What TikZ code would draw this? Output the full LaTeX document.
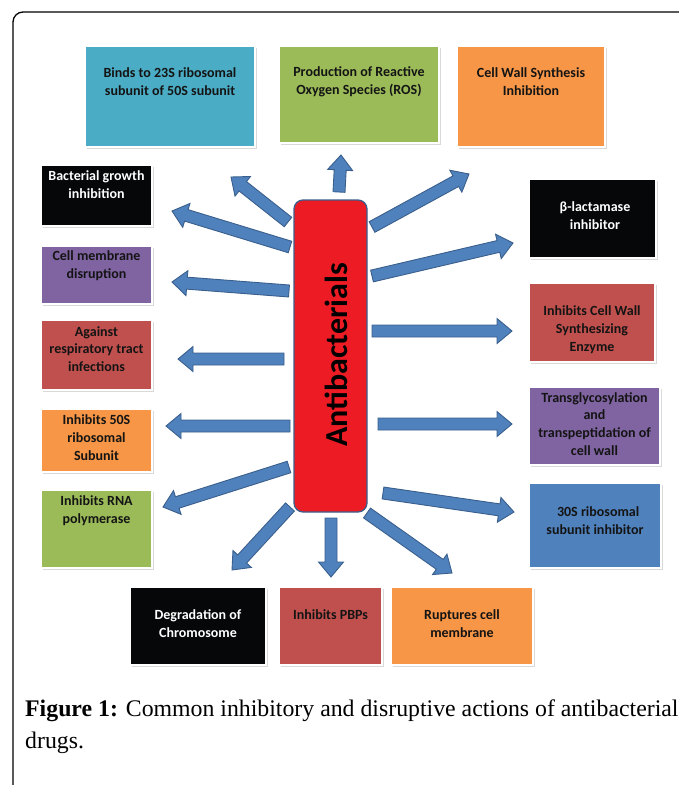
\documentclass[tikz,border=0pt]{standalone}
\usepackage{fontspec}
\setmainfont{Liberation Serif}
\newfontfamily\boxfont{Carlito}
\usetikzlibrary{calc,shadows}

\definecolor{tealbox}{HTML}{4BACC6}
\definecolor{greenbox}{HTML}{9BBB59}
\definecolor{orangebox}{HTML}{F79646}
\definecolor{purplebox}{HTML}{8064A2}
\definecolor{redbox}{HTML}{C0504D}
\definecolor{bluebox}{HTML}{4F81BD}
\definecolor{blackbox}{HTML}{050708}
\definecolor{arrowfill}{HTML}{4F81BD}
\definecolor{arrowedge}{HTML}{3A5F8C}
\definecolor{centrefill}{HTML}{ED1C24}

\tikzset{
  box/.style={draw=white, line width=2pt, inner sep=0pt,
    drop shadow={shadow xshift=1.5pt, shadow yshift=-1.5pt, fill=black!25, opacity=0.6}},
  txt/.style={font=\boxfont\bfseries\fontsize{14}{17.8}\selectfont, align=center, text=black!92, inner sep=0pt},
  wtxt/.style={txt, text=white},
  blockarrow/.style={fill=arrowfill, draw=arrowedge, line width=0.9pt, line join=miter}
}

% block arrow from #1 (tail) to #2 (tip)
\newcommand{\bigarrow}[2]{%
  \filldraw[blockarrow] let \p1=(#1), \p2=(#2),
    \n1={veclen(\x2-\x1,\y2-\y1)}, \n2={(\x2-\x1)/\n1}, \n3={(\y2-\y1)/\n1} in
    ({\x1-6pt*\n3},{\y1+6pt*\n2})
    -- ({\x2-15pt*\n2-6pt*\n3},{\y2-15pt*\n3+6pt*\n2})
    -- ({\x2-15pt*\n2-12.5pt*\n3},{\y2-15pt*\n3+12.5pt*\n2})
    -- (\p2)
    -- ({\x2-15pt*\n2+12.5pt*\n3},{\y2-15pt*\n3-12.5pt*\n2})
    -- ({\x2-15pt*\n2+6pt*\n3},{\y2-15pt*\n3-6pt*\n2})
    -- ({\x1+6pt*\n3},{\y1-6pt*\n2}) -- cycle;}

\begin{document}
\begin{tikzpicture}[x=1pt,y=-1pt]
  \useasboundingbox (0,0) rectangle (678,785);
  \draw[line width=1.3pt, rounded corners=10pt] (13,800) -- (13,12) -- (700,12);

  % boxes
  \node[box, fill=tealbox, minimum width=170pt, minimum height=101pt] (binds) at (170,96.5) {};
  \node[txt] (binds-t) at (170,82) {Binds to 23S ribosomal\\subunit of 50S subunit};
  \node[box, fill=greenbox, minimum width=160pt, minimum height=97pt] (ros) at (359,94.5) {};
  \node[txt] (ros-t) at (359,82) {Production of Reactive\\Oxygen Species (ROS)};
  \node[box, fill=orangebox, minimum width=148pt, minimum height=101pt] (cwsi) at (531,96.5) {};
  \node[txt] (cwsi-t) at (531,82) {Cell Wall Synthesis\\Inhibition};
  \node[box, fill=blackbox, minimum width=111pt, minimum height=61pt] (bact) at (96.5,195.5) {};
  \node[wtxt] (bact-t) at (96.5,184.5) {Bacterial growth\\inhibition};
  \node[box, fill=purplebox, minimum width=111pt, minimum height=58pt] (memb) at (96.5,275) {};
  \node[txt] (memb-t) at (96.5,266) {Cell membrane\\disruption};
  \node[box, fill=redbox, minimum width=111pt, minimum height=70pt] (resp) at (96.5,355) {};
  \node[txt] (resp-t) at (96.5,349) {Against\\respiratory tract\\infections};
  \node[box, fill=orangebox, minimum width=111pt, minimum height=63pt] (rib50) at (96.5,440.5) {};
  \node[txt] (rib50-t) at (96.5,437.5) {Inhibits 50S\\ribosomal\\Subunit};
  \node[box, fill=greenbox, minimum width=111pt, minimum height=78pt] (rnap) at (96.5,529) {};
  \node[txt] (rnap-t) at (96.5,510.5) {Inhibits RNA\\polymerase};
  \node[box, fill=blackbox, minimum width=127pt, minimum height=79pt] (blac) at (592.5,218.5) {};
  \node[wtxt] (blac-t) at (595,215.5) {β-lactamase\\inhibitor};
  \node[box, fill=redbox, minimum width=126pt, minimum height=79pt] (cwse) at (592,322.5) {};
  \node[txt] (cwse-t) at (592,329.5) {Inhibits Cell Wall\\Synthesizing\\Enzyme};
  \node[box, fill=purplebox, minimum width=131pt, minimum height=78pt] (tgly) at (594.5,426) {};
  \node[txt] (tgly-t) at (594.5,424) {Transglycosylation\\and\\transpeptidation of\\cell wall};
  \node[box, fill=bluebox, minimum width=132pt, minimum height=85pt] (rib30) at (595,525.5) {};
  \node[txt] (rib30-t) at (595,520.5) {\ \ 30S ribosomal\\subunit inhibitor};
  \node[box, fill=blackbox, minimum width=136pt, minimum height=78pt] (chrom) at (198,626) {};
  \node[wtxt] (chrom-t) at (198,624) {Degradation of\\Chromosome};
  \node[box, fill=redbox, minimum width=103pt, minimum height=78pt] (pbps) at (330.5,626) {};
  \node[txt] (pbps-t) at (330.5,615) {Inhibits PBPs};
  \node[box, fill=orangebox, minimum width=142pt, minimum height=78pt] (rupt) at (462,626) {};
  \node[txt] (rupt-t) at (462,623.5) {Ruptures cell\\membrane};

  % centre
  \node[fill=centrefill, draw=arrowedge, line width=1.3pt, rounded corners=9pt,
        minimum width=73pt, minimum height=312pt] (anti) at (330.5,356) {};
  \node[rotate=90, font=\boxfont\bfseries\fontsize{32}{36}\selectfont, text=black, inner sep=0pt]
        (anti-t) at (336.5,355) {Antibacterials};

  % arrow ends
  \coordinate (s1) at (288,222);  \coordinate (e1) at (231,177);
  \coordinate (s2) at (290,247);  \coordinate (e2) at (172,211);
  \coordinate (s3) at (289,291);  \coordinate (e3) at (172,282);
  \coordinate (s4) at (339,192);  \coordinate (e4) at (341,155);
  \coordinate (s5) at (372,227);  \coordinate (e5) at (469,174);
  \coordinate (s6) at (372,276);  \coordinate (e6) at (513,243);
  \coordinate (s7) at (372,331);  \coordinate (e7) at (512,331);
  \coordinate (s8) at (378,424);  \coordinate (e8) at (512,424);
  \coordinate (s9) at (383,493);  \coordinate (e9) at (514,512);
  \coordinate (s10) at (367,513); \coordinate (e10) at (452,573);
  \coordinate (s11) at (331,518); \coordinate (e11) at (331,577);
  \coordinate (s12) at (290,507); \coordinate (e12) at (232,570);
  \coordinate (s13) at (289,467); \coordinate (e13) at (163,507);
  \coordinate (s14) at (290,426); \coordinate (e14) at (166,426);
  \coordinate (s15) at (284,359); \coordinate (e15) at (178,359);

  \bigarrow{s1}{e1}
  \bigarrow{s2}{e2}
  \bigarrow{s3}{e3}
  \bigarrow{s4}{e4}
  \bigarrow{s5}{e5}
  \bigarrow{s6}{e6}
  \bigarrow{s7}{e7}
  \bigarrow{s8}{e8}
  \bigarrow{s9}{e9}
  \bigarrow{s10}{e10}
  \bigarrow{s11}{e11}
  \bigarrow{s12}{e12}
  \bigarrow{s13}{e13}
  \bigarrow{s14}{e14}
  \bigarrow{s15}{e15}

  % caption
  \node[anchor=base west, align=left, inner sep=0pt, font=\fontsize{23.8}{32}\selectfont]
        (cap) at (25,748) {\textbf{Figure 1:} Common inhibitory and disruptive actions of antibacterial\\drugs.};
\end{tikzpicture}
\end{document}
